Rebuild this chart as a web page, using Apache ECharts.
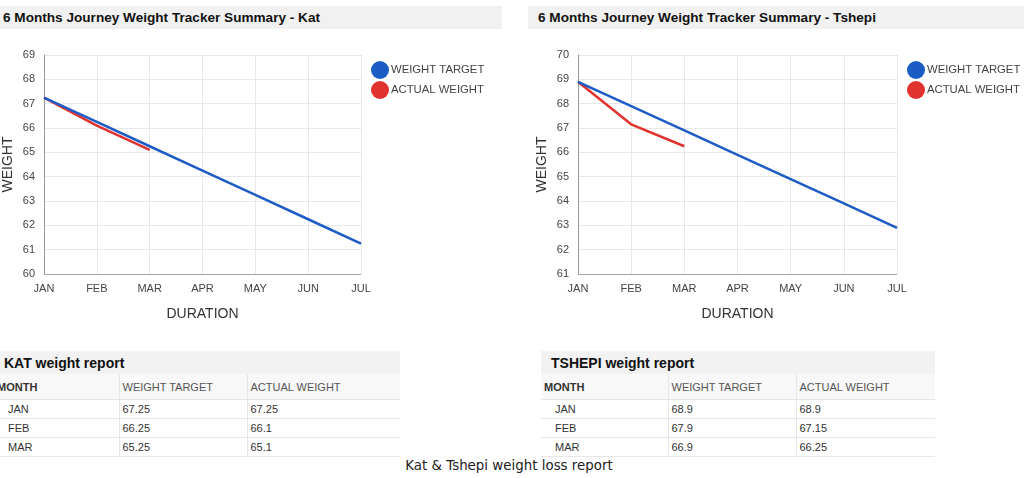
<!DOCTYPE html>
<html>
<head>
<meta charset="utf-8">
<script src="https://cdn.jsdelivr.net/npm/echarts@6/dist/echarts.min.js"></script>
<style>
html,body{margin:0;padding:0;background:#fff;width:1024px;height:478px;overflow:hidden;font-family:"Liberation Sans",Arial,sans-serif;}
.tbar{position:absolute;height:23px;background:#f1f1f1;font-weight:bold;font-size:13.6px;color:#111;line-height:23px;box-sizing:border-box;}
#chart{position:absolute;left:0;top:30px;width:1024px;height:300px;}
table{position:absolute;border-collapse:collapse;font-size:11px;color:#333;table-layout:fixed;}
table td,table th{border-bottom:1px solid #e6e6e6;padding:0 3px;text-align:left;white-space:nowrap;overflow:hidden;}
table .cap td{background:#f2f2f2;font-weight:bold;font-size:14px;color:#111;height:23px;border-bottom:none;padding-left:10px;}
table .hd td{background:#f8f8f8;height:25px;color:#555;border-left:1px solid #e6e6e6;}
table .hd td:first-child{border-left:none;font-weight:bold;color:#333;}
table .rw td{height:18px;border-left:1px solid #e6e6e6;}
table .rw td:first-child{border-left:none;padding-left:14px;}
#caption{position:absolute;left:0;width:1018px;top:458px;text-align:center;font-family:"DejaVu Sans",Verdana,sans-serif;font-size:13.4px;color:#222;}
</style>
</head>
<body>
<div class="tbar" style="left:0;top:6px;width:502px;padding-left:3px;">6 Months Journey Weight Tracker Summary - Kat</div>
<div class="tbar" style="left:528px;top:6px;width:496px;padding-left:10px;">6 Months Journey Weight Tracker Summary - Tshepi</div>
<div id="chart"></div>
<table id="t1" style="left:-6px;top:351px;width:406px;"></table>
<table id="t2" style="left:541px;top:351px;width:394px;"></table>
<div id="caption">Kat &amp; Tshepi weight loss report</div>
<script>
const months = ['JAN','FEB','MAR','APR','MAY','JUN','JUL'];
const katTarget = [67.25, 66.25, 65.25, 64.25, 63.25, 62.25, 61.25];
const katActual = [67.25, 66.1, 65.1];
const tshepiTarget = [68.9, 67.9, 66.9, 65.9, 64.9, 63.9, 62.9];
const tshepiActual = [68.9, 67.15, 66.25];
const seriesNames = ['WEIGHT TARGET', 'ACTUAL WEIGHT'];
const tableHeaders = ['MONTH', 'WEIGHT TARGET', 'ACTUAL WEIGHT'];
const reportMonths = ['JAN', 'FEB', 'MAR'];

const blue = '#1c5cc4', red = '#e2322f';
const axisText = {color:'#444', fontSize:11, fontFamily:'Liberation Sans, Arial'};

function xAx(i){
  return {type:'category', gridIndex:i, data:months, boundaryGap:false,
    axisLine:{lineStyle:{color:'#aaa'}}, axisTick:{show:false},
    axisLabel:Object.assign({margin:9}, axisText),
    splitLine:{show:true, lineStyle:{color:'#e8e8e8'}},
    name:'DURATION', nameLocation:'middle', nameGap:33,
    nameTextStyle:{color:'#333', fontSize:14, fontFamily:'Liberation Sans, Arial'}};
}
function yAx(i, mn, mx){
  return {type:'value', gridIndex:i, min:mn, max:mx, interval:1,
    axisLine:{show:true, lineStyle:{color:'#999'}}, axisTick:{show:false},
    axisLabel:Object.assign({margin:9}, axisText),
    splitLine:{lineStyle:{color:'#e8e8e8'}},
    name:'WEIGHT', nameLocation:'middle', nameGap:29,
    nameTextStyle:{color:'#333', fontSize:14, fontFamily:'Liberation Sans, Arial'}};
}
function legend(left, names){
  return {show:true, orient:'vertical', left:left, top:26, itemWidth:18, itemHeight:18, itemGap:2,
    icon:'circle', textStyle:{color:'#444', fontSize:11.3, fontFamily:'Liberation Sans, Arial', padding:[0,0,0,-3]},
    data:names, selectedMode:false,
    formatter:n=>n.trim()};
}
const chart = echarts.init(document.getElementById('chart'), null, {renderer:'canvas'});
chart.setOption({
  animation:false,
  grid:[{left:42, top:25, width:319, height:219},{left:578, top:25, width:319, height:219}],
  xAxis:[xAx(0), xAx(1)],
  yAxis:[yAx(0,60,69), yAx(1,61,70)],
  legend:[
    legend(366, [seriesNames[0], seriesNames[1]]),
    legend(902, [seriesNames[0]+' ', seriesNames[1]+' '])
  ],
  series:[
    {name:seriesNames[0], type:'line', xAxisIndex:0, yAxisIndex:0, data:katTarget, showSymbol:false, color:blue, lineStyle:{width:2.5, color:blue}, z:3},
    {name:seriesNames[1], type:'line', xAxisIndex:0, yAxisIndex:0, data:katActual, showSymbol:false, color:red, lineStyle:{width:2.5, color:red}, z:2},
    {name:seriesNames[0]+' ', type:'line', xAxisIndex:1, yAxisIndex:1, data:tshepiTarget, showSymbol:false, color:blue, lineStyle:{width:2.5, color:blue}, z:3},
    {name:seriesNames[1]+' ', type:'line', xAxisIndex:1, yAxisIndex:1, data:tshepiActual, showSymbol:false, color:red, lineStyle:{width:2.5, color:red}, z:2}
  ]
});

function buildTable(id, title, target, actual){
  const t = document.getElementById(id);
  let h = '<colgroup><col style="width:' + (id==='t1'?125:127) + 'px"><col style="width:128px"><col></colgroup>';
  h += '<tr class="cap"><td colspan="3">' + title + '</td></tr>';
  h += '<tr class="hd">' + tableHeaders.map(x=>'<td>'+x+'</td>').join('') + '</tr>';
  reportMonths.forEach((m,i)=>{
    h += '<tr class="rw"><td>'+m+'</td><td>'+target[i]+'</td><td>'+actual[i]+'</td></tr>';
  });
  t.innerHTML = h;
}
buildTable('t1', 'KAT weight report', katTarget, katActual);
buildTable('t2', 'TSHEPI weight report', tshepiTarget, tshepiActual);
</script>
</body>
</html>
